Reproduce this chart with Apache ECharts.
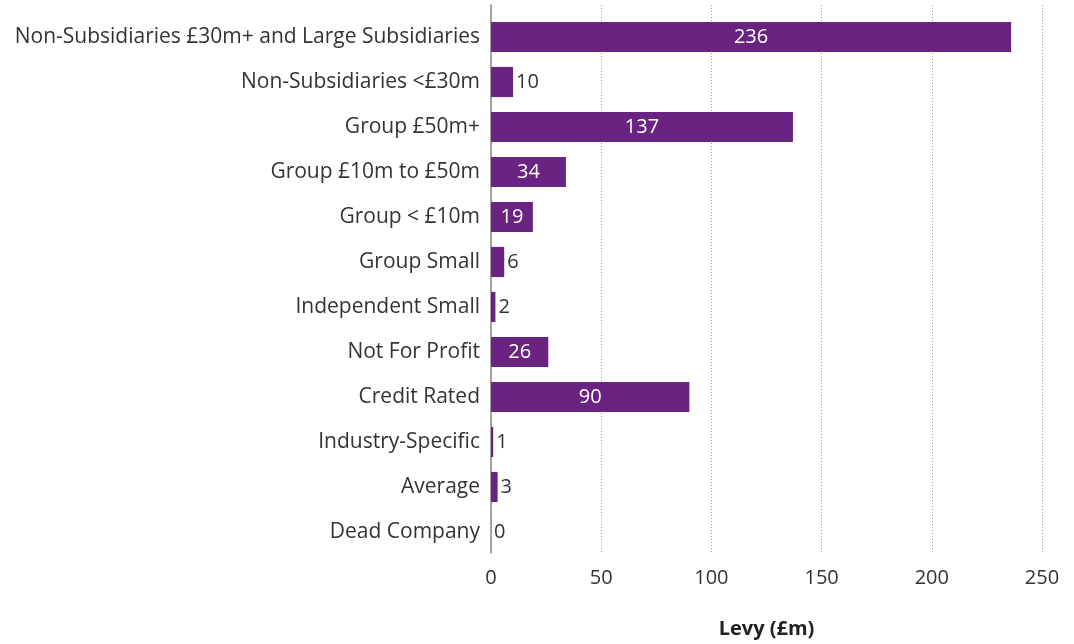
<!DOCTYPE html>
<html><head><meta charset="utf-8">
<script src="https://cdn.jsdelivr.net/npm/echarts@6/dist/echarts.min.js"></script>
<style>html,body{margin:0;padding:0;background:#fff}#c{width:1074px;height:644px}</style>
</head><body><div id="c"></div>
<script>
const categories = ["Non-Subsidiaries £30m+ and Large Subsidiaries","Non-Subsidiaries <£30m","Group £50m+","Group £10m to £50m","Group < £10m","Group Small","Independent Small","Not For Profit","Credit Rated","Industry-Specific","Average","Dead Company"];
const levy = [236,10,137,34,19,6,2,26,90,1,3,0];
const xTicks = [0,50,100,150,200,250];
const axisTitle = "Levy (£m)";

const FONT = "'Open Sans', sans-serif";
const PURPLE = "#6a2380";
const chart = echarts.init(document.getElementById('c'));
const L = 491, R = 32;
chart.setOption({
  animation:false,
  textStyle:{fontFamily:FONT},
  grid:[
    {left:L, right:R, top:5, bottom:644-561, containLabel:false},
    {left:L, right:R, top:14.5, bottom:644-554.5, containLabel:false}
  ],
  xAxis:[
    {gridIndex:0, type:'value', min:xTicks[0], max:xTicks[xTicks.length-1], interval:50,
     axisLine:{show:false}, axisTick:{show:false},
     axisLabel:{fontSize:20, color:'#333', margin:15, fontFamily:FONT},
     splitLine:{show:true, lineStyle:{type:[1,2], color:'#999', width:1}},
     name:axisTitle, nameLocation:'middle', nameGap:66,
     nameTextStyle:{fontSize:20, fontWeight:'bold', color:'#222', fontFamily:FONT}},
    {gridIndex:1, type:'value', min:xTicks[0], max:xTicks[xTicks.length-1], show:false}
  ],
  yAxis:[
    {gridIndex:0, type:'value', min:0, max:1, axisLine:{show:true, lineStyle:{color:'#888', width:1.5}},
     axisTick:{show:false}, axisLabel:{show:false}, splitLine:{show:false}},
    {gridIndex:1, type:'category', data:categories, inverse:true,
     axisLine:{show:false}, axisTick:{show:false}, splitLine:{show:false},
     axisLabel:{fontSize:21, color:'#333', margin:11, fontFamily:FONT}}
  ],
  series:[{
    type:'bar', xAxisIndex:1, yAxisIndex:1, barCategoryGap:'33%',
    itemStyle:{color:PURPLE},
    data: levy.map(v => ({value:v, label: v > 15
      ? {show:true, position:'inside', color:'#fff', fontSize:20, fontFamily:FONT}
      : {show:true, position:'right', distance:3, color:'#333', fontSize:20, fontFamily:FONT}}))
  }]
});
</script></body></html>
